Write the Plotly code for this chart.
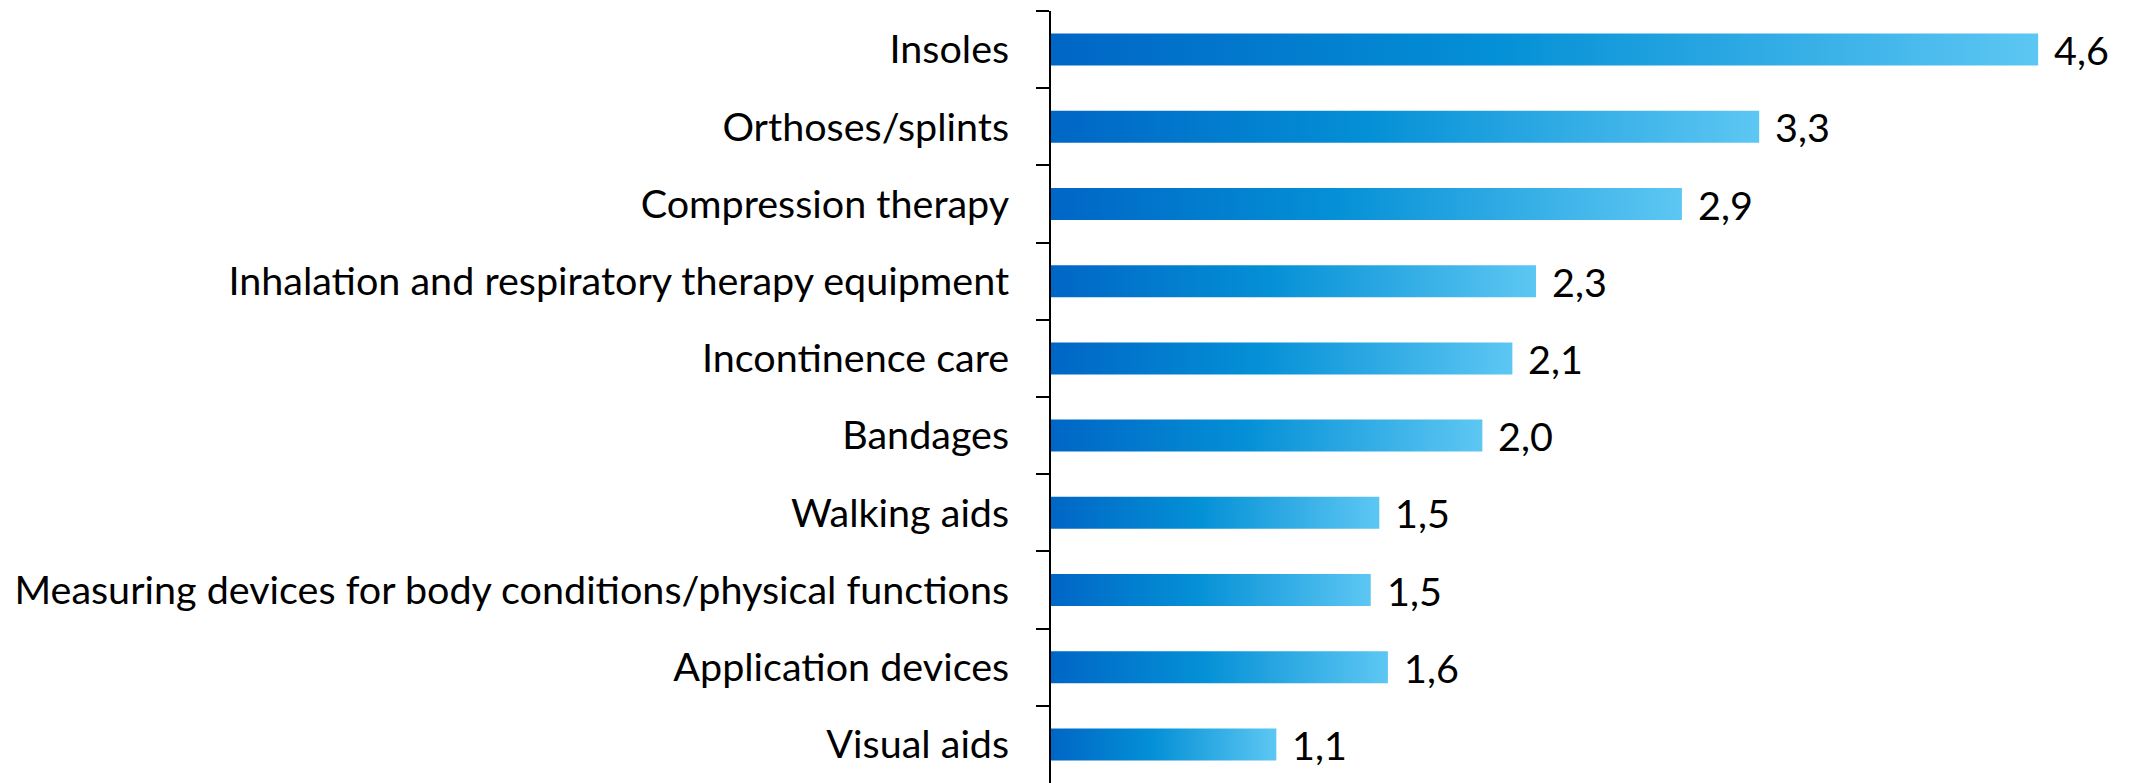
import plotly.graph_objects as go

categories = ["Insoles", "Orthoses/splints", "Compression therapy",
              "Inhalation and respiratory therapy equipment", "Incontinence care",
              "Bandages", "Walking aids",
              "Measuring devices for body conditions/physical functions",
              "Application devices", "Visual aids"]
# bar lengths (labels show the rounded values)
values = [4.60, 3.30, 2.94, 2.26, 2.15, 2.01, 1.53, 1.49, 1.57, 1.05]
value_labels = ["4,6", "3,3", "2,9", "2,3", "2,1", "2,0", "1,5", "1,5", "1,6", "1,1"]

FONT = "Lato"
FS = 39.5
BAR_W = 0.414
grad = [[0.0, "#0066C6"], [0.45, "#0490D6"], [1.0, "#5DC7F3"]]

fig = go.Figure()
# invisible trace to register categories on the category axis
fig.add_trace(go.Scatter(x=[0] * len(categories), y=categories, mode="markers",
                         marker=dict(opacity=0), hoverinfo="skip", showlegend=False,
                         yaxis="y"))

for i, (c, v) in enumerate(zip(categories, values)):
    h = BAR_W / 2
    fig.add_trace(go.Scatter(
        x=[0, v, v, 0, 0], y=[i - h, i - h, i + h, i + h, i - h],
        mode="lines", line=dict(width=0), fill="toself",
        fillgradient=dict(type="horizontal", colorscale=grad),
        hoverinfo="skip", showlegend=False, yaxis="y2"))
    fig.add_annotation(x=v, y=i, yref="y2", text=value_labels[i], showarrow=False,
                       xanchor="left", xshift=14, font=dict(family=FONT, size=FS, color="black"))

n = len(categories)
fig.update_layout(
    width=2125, height=775,
    margin=dict(l=1043, r=9, t=3, b=0, autoexpand=False),
    plot_bgcolor="white", paper_bgcolor="white",
    font=dict(family=FONT, size=FS, color="black"),
    xaxis=dict(range=[0, 5], visible=False, showgrid=False, zeroline=False, automargin=False),
    yaxis=dict(type="category", categoryorder="array", categoryarray=categories,
               range=[n - 0.5, -0.5], tickson="boundaries", ticks="outside",
               ticklen=13, tickwidth=2, tickcolor="black", showline=True,
               linecolor="black", linewidth=2, showgrid=False, zeroline=False,
               automargin=False,
               ticklabelstandoff=32, tickfont=dict(family=FONT, size=FS, color="black")),
    yaxis2=dict(overlaying="y", range=[n - 0.5, -0.5], visible=False,
                showgrid=False, zeroline=False, automargin=False),
)
fig.write_html("out.html")
